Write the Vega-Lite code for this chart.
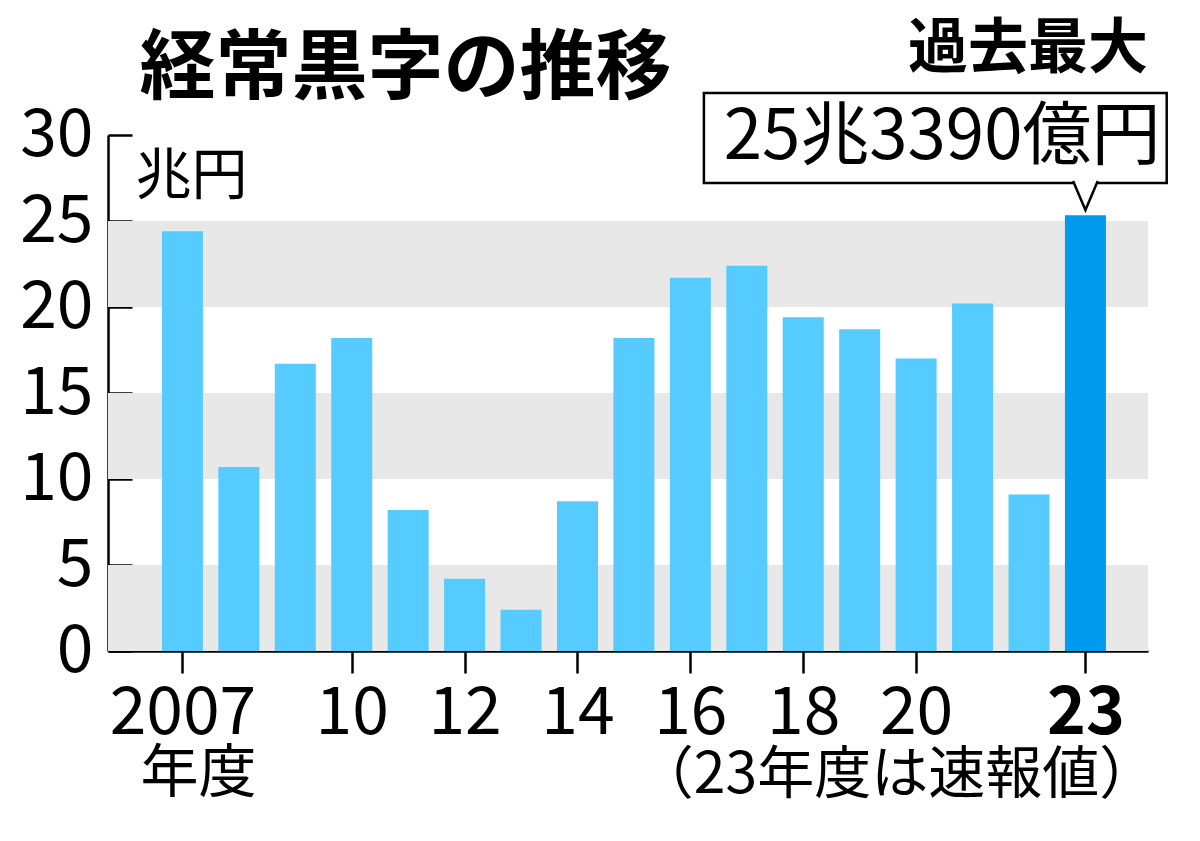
{
  "$schema": "https://vega.github.io/schema/vega-lite/v6.json",
  "width": 1040,
  "height": 516,
  "autosize": "none",
  "padding": {"left": 108, "top": 135, "right": 52, "bottom": 190},
  "background": "white",
  "config": {"font": "Noto Sans CJK JP", "view": {"stroke": null}},
  "datasets": {
    "bands": [{"lo": 0, "hi": 5}, {"lo": 10, "hi": 15}, {"lo": 20, "hi": 25}],
    "bars": [
      {"year": 2007, "value": 24.4},
      {"year": 2008, "value": 10.7},
      {"year": 2009, "value": 16.7},
      {"year": 2010, "value": 18.2},
      {"year": 2011, "value": 8.2},
      {"year": 2012, "value": 4.2},
      {"year": 2013, "value": 2.4},
      {"year": 2014, "value": 8.7},
      {"year": 2015, "value": 18.2},
      {"year": 2016, "value": 21.7},
      {"year": 2017, "value": 22.4},
      {"year": 2018, "value": 19.4},
      {"year": 2019, "value": 18.7},
      {"year": 2020, "value": 17.0},
      {"year": 2021, "value": 20.2},
      {"year": 2022, "value": 9.1},
      {"year": 2023, "value": 25.339}
    ],
    "notes": [{"title": "経常黒字の推移", "unit": "年度", "max": "過去最大", "amount": "25兆3390億円"}]
  },
  "layer": [
    {
      "data": {"name": "bands"},
      "mark": {"type": "rect", "color": "#E8E8E8"},
      "encoding": {
        "x": {"value": 0},
        "x2": {"value": "width"},
        "y": {
          "field": "lo", "type": "quantitative",
          "scale": {"domain": [0, 30], "nice": false, "zero": false},
          "axis": {
            "values": [0, 5, 10, 15, 20, 25, 30],
            "labelFontSize": 66,
            "labelColor": "black",
            "labelPadding": 39,
            "labelFlush": false,
            "labelOverlap": false,
            "domainColor": "black",
            "domainWidth": 2.5,
            "tickColor": "black",
            "tickWidth": 2.5,
            "tickSize": -24,
            "grid": false,
            "title": "兆円",
            "titleAngle": 0,
            "titleFontSize": 56,
            "titleFontWeight": "normal",
            "titleColor": "black",
            "titleX": 27,
            "titleY": 41,
            "titleAlign": "left",
            "titleBaseline": "middle"
          }
        },
        "y2": {"field": "hi"}
      }
    },
    {
      "data": {"name": "bars"},
      "mark": {"type": "bar", "width": 41},
      "encoding": {
        "x": {
          "field": "year", "type": "quantitative",
          "scale": {"domain": [2005.77, 2024.02], "nice": false, "zero": false},
          "axis": {
            "values": [2007, 2010, 2012, 2014, 2016, 2018, 2020, 2023],
            "format": "d",
            "labelExpr": "datum.value == 2007 ? '2007' : substring(datum.label, 2)",
            "labelFontSize": 66,
            "labelColor": "black",
            "labelPadding": 8,
            "labelFlush": false,
            "labelOverlap": false,
            "labelFontWeight": {"condition": {"test": "datum.value == 2023", "value": "bold"}, "value": "normal"},
            "domainColor": "black",
            "domainWidth": 2.5,
            "tickColor": "black",
            "tickWidth": 2.5,
            "tickSize": 22,
            "grid": false,
            "title": "（23年度は速報値）",
            "titleFontSize": 57,
            "titleFontWeight": "normal",
            "titleColor": "black",
            "titleX": 788,
            "titleY": 124,
            "titleAlign": "center",
            "titleBaseline": "middle"
          }
        },
        "y": {
          "field": "value", "type": "quantitative",
          "scale": {"domain": [0, 30], "nice": false, "zero": false},
          "axis": {
            "values": [0, 5, 10, 15, 20, 25, 30],
            "labelFontSize": 66,
            "labelColor": "black",
            "labelPadding": 39,
            "labelFlush": false,
            "labelOverlap": false,
            "domainColor": "black",
            "domainWidth": 2.5,
            "tickColor": "black",
            "tickWidth": 2.5,
            "tickSize": -24,
            "grid": false,
            "title": "兆円",
            "titleAngle": 0,
            "titleFontSize": 56,
            "titleFontWeight": "normal",
            "titleColor": "black",
            "titleX": 27,
            "titleY": 41,
            "titleAlign": "left",
            "titleBaseline": "middle"
          }
        },
        "color": {"condition": {"test": "datum.year == 2023", "value": "#0099EE"}, "value": "#55CBFF"}
      }
    },
    {
      "data": {"name": "notes"},
      "mark": {"type": "text", "fontSize": 58, "align": "center", "baseline": "middle", "dx": 16, "dy": 124, "color": "black"},
      "encoding": {
        "x": {"datum": 2007, "type": "quantitative"},
        "y": {"datum": 0, "type": "quantitative"},
        "text": {"field": "unit"}
      }
    },
    {
      "data": {"name": "notes"},
      "mark": {"type": "text", "fontSize": 76, "fontWeight": "bold", "align": "left", "baseline": "middle", "color": "black"},
      "encoding": {
        "x": {"datum": 2006.24, "type": "quantitative"},
        "y": {"datum": 33.78, "type": "quantitative"},
        "text": {"field": "title"}
      }
    },
    {
      "data": {"name": "notes"},
      "mark": {"type": "rect", "fill": "white", "stroke": "black", "strokeWidth": 2.5},
      "encoding": {
        "x": {"datum": 2016.24, "type": "quantitative"},
        "x2": {"datum": 2024.44},
        "y": {"datum": 32.44, "type": "quantitative"},
        "y2": {"datum": 27.21}
      }
    },
    {
      "data": {"name": "notes"},
      "mark": {"type": "point", "shape": "M-0.85,-1L0,1L0.85,-1", "size": 841, "filled": true, "fill": "white", "stroke": "black", "strokeWidth": 2.5, "opacity": 1},
      "encoding": {
        "x": {"datum": 2023, "type": "quantitative"},
        "y": {"datum": 26.48, "type": "quantitative"}
      }
    },
    {
      "data": {"name": "notes"},
      "mark": {"type": "text", "fontSize": 69, "align": "center", "baseline": "middle", "color": "black"},
      "encoding": {
        "x": {"datum": 2020.46, "type": "quantitative"},
        "y": {"datum": 29.8, "type": "quantitative"},
        "text": {"field": "amount"}
      }
    },
    {
      "data": {"name": "notes"},
      "mark": {"type": "text", "fontSize": 60, "fontWeight": "bold", "align": "right", "baseline": "middle", "color": "black"},
      "encoding": {
        "x": {"datum": 2024.11, "type": "quantitative"},
        "y": {"datum": 34.94, "type": "quantitative"},
        "text": {"field": "max"}
      }
    }
  ]
}
